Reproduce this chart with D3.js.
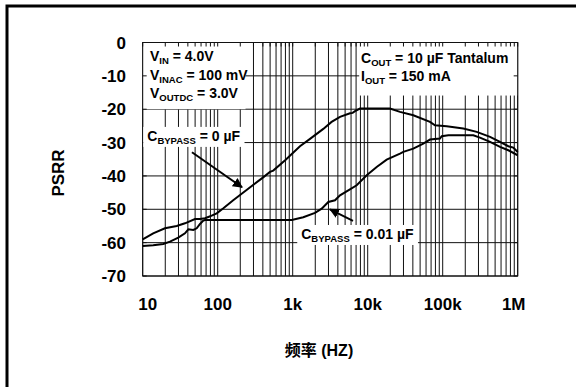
<!DOCTYPE html>
<html><head><meta charset="utf-8">
<script src="https://cdn.jsdelivr.net/npm/d3@7/dist/d3.min.js"></script>
<style>
html,body{margin:0;padding:0;background:#fff;}
svg{display:block;}
text{font-family:"Liberation Sans",Arial,sans-serif;font-weight:bold;fill:#000;}
</style></head>
<body>
<svg id="c" width="576" height="387"></svg>
<script>
// ---- data ----
const freqTicks = [10, 100, 1000, 10000, 100000, 1000000];
const freqTickLabels = ["10", "100", "1k", "10k", "100k", "1M"];
const psrrTicks = [0, -10, -20, -30, -40, -50, -60, -70];

// C_BYPASS = 0 uF
const freq0 = [10, 13.8, 19.8, 28.4, 36.6, 49.8, 58.1, 67.7, 75, 83, 97, 119, 161, 250, 400, 498, 550, 800, 1250, 1702, 2558, 3300, 4274, 5808, 6300, 6776, 7890, 19800, 26970, 40550, 67700, 78900, 113000, 188000, 284000, 428000, 581000, 750000, 873000, 1000000];
const psrr0 = [-59.0, -57.2, -55.7, -55.0, -54.2, -52.9, -52.9, -52.7, -52.3, -51.9, -51.2, -49.7, -47.3, -44.0, -40.5, -38.8, -38.4, -35.2, -31.1, -28.9, -25.9, -23.8, -22.3, -21.2, -21.1, -20.6, -19.8, -19.8, -20.8, -21.8, -23.8, -24.8, -25.1, -25.8, -26.8, -28.3, -29.8, -31.1, -31.5, -32.8];

// C_BYPASS = 0.01 uF
const freq001 = [10, 13.8, 18.8, 23.1, 29.8, 36.6, 40.6, 47.3, 52.5, 58.1, 64.3, 67.7, 970, 1384, 1982, 2437, 2985, 3664, 4274, 5510, 7130, 9700, 13180, 17910, 26970, 29850, 40550, 55100, 67700, 92000, 97000, 119000, 256000, 314000, 428000, 581000, 750000, 1000000];
const psrr001 = [-61.0, -60.8, -60.4, -59.7, -58.5, -57.2, -56.0, -56.2, -55.7, -54.4, -53.4, -53.2, -53.2, -52.4, -51.1, -49.8, -47.8, -47.3, -45.8, -44.3, -42.8, -39.8, -37.3, -35.1, -33.3, -32.8, -31.8, -30.3, -29.1, -28.8, -28.1, -27.8, -27.8, -28.5, -29.8, -31.3, -32.3, -33.8];

// annotation texts
const legendLeft = [
  [["V"], ["IN", 1], [" = 4.0V"]],
  [["V"], ["INAC", 1], [" = 100 mV"]],
  [["V"], ["OUTDC", 1], [" = 3.0V"]]
];
const legendRight = [
  [["C"], ["OUT", 1], [" = 10 µF Tantalum"]],
  [["I"], ["OUT", 1], [" = 150 mA"]]
];
const label0 = [["C"], ["BYPASS", 1], [" = 0 µF"]];
const label001 = [["C"], ["BYPASS", 1], [" = 0.01 µF"]];
const xTitle = "频率 (HZ)";
const yTitle = "PSRR";

// ---- drawing ----
const svg = d3.select("#c");
const x = d3.scaleLog().domain([10, 1e6]).range([142.7, 517.7]);
const y = d3.scaleLinear().domain([-70, 0]).range([276, 42.5]);
const gridColor = "#111";

// outer frame (only top & left visible)
svg.append("rect").attr("x", 7).attr("y", 6).attr("width", 600).attr("height", 420)
  .attr("fill", "none").attr("stroke", "#000").attr("stroke-width", 3);

// minor + major freq positions
const gridFreqs = [];
for (let dec = 10; dec < 1e6; dec *= 10) for (let k = 1; k <= 9; k++) gridFreqs.push(dec * k);
gridFreqs.push(1e6);

const g = svg.append("g");
g.selectAll("line.v").data(gridFreqs).join("line")
  .attr("x1", d => x(d)).attr("x2", d => x(d)).attr("y1", y(0)).attr("y2", y(-70))
  .attr("stroke", gridColor).attr("stroke-width", 1);
g.selectAll("line.h").data(psrrTicks).join("line")
  .attr("x1", x(10)).attr("x2", x(1e6)).attr("y1", d => y(d)).attr("y2", d => y(d))
  .attr("stroke", gridColor).attr("stroke-width", 1);

// white boxes behind legend texts
g.append("rect").attr("x", x(10)).attr("y", y(0)).attr("width", x(235) - x(10)).attr("height", y(-20) - y(0)).attr("fill", "#fff");
g.append("rect").attr("x", x(7700)).attr("y", y(0)).attr("width", x(1e6) - x(7700)).attr("height", y(-15.9) - y(0)).attr("fill", "#fff");

// frame ticks (inward)
g.selectAll("line.tt").data(gridFreqs).join("line")
  .attr("x1", d => x(d)).attr("x2", d => x(d)).attr("y1", y(0)).attr("y2", y(0) + 4)
  .attr("stroke", gridColor);
g.selectAll("line.tl").data(psrrTicks).join("line")
  .attr("x1", x(10)).attr("x2", x(10) + 4).attr("y1", d => y(d)).attr("y2", d => y(d)).attr("stroke", gridColor);
g.selectAll("line.tr").data(psrrTicks).join("line")
  .attr("x1", x(1e6) - 4).attr("x2", x(1e6)).attr("y1", d => y(d)).attr("y2", d => y(d)).attr("stroke", gridColor);
g.append("rect").attr("x", x(10)).attr("y", y(0)).attr("width", x(1e6) - x(10)).attr("height", y(-70) - y(0))
  .attr("fill", "none").attr("stroke", gridColor).attr("stroke-width", 1);

function richText(parent, parts, px, py, size) {
  const t = parent.append("text").attr("x", px).attr("y", py).attr("font-size", size);
  parts.forEach(p => {
    const s = t.append("tspan").text(p[0]);
    if (p[1]) s.attr("font-size", size * 0.68).attr("dy", 3);
    else if (t.node().childNodes.length > 1) s.attr("dy", -3);
  });
  return t;
}

// legend texts
legendLeft.forEach((parts, i) => richText(svg, parts, 150, 61 + i * 18.5, 14));
legendRight.forEach((parts, i) => richText(svg, parts, 361, 63 + i * 17.5, 14));

// callout labels with white background
function callout(parts, fx, fy) {
  const t = richText(svg, parts, x(fx), y(fy), 14);
  const b = t.node().getBBox();
  svg.insert("rect", "text").attr("x", b.x - 4).attr("y", b.y - 1).attr("width", b.width + 8).attr("height", b.height + 2).attr("fill", "#fff");
}
callout(label0, 11.5, -29.5);
callout(label001, 1300, -58.9);

// curves
const line = d3.line().x(d => x(d[0])).y(d => y(d[1]));
svg.append("path").datum(freq0.map((f, i) => [f, psrr0[i]])).attr("d", line)
  .attr("fill", "none").attr("stroke", "#000").attr("stroke-width", 2);
svg.append("path").datum(freq001.map((f, i) => [f, psrr001[i]])).attr("d", line)
  .attr("fill", "none").attr("stroke", "#000").attr("stroke-width", 2);

// arrows
const defs = svg.append("defs");
defs.append("marker").attr("id", "ah").attr("viewBox", "0 0 10 10").attr("refX", 9).attr("refY", 5)
  .attr("markerWidth", 5).attr("markerHeight", 5).attr("orient", "auto")
  .append("path").attr("d", "M0,0L10,5L0,10z").attr("fill", "#000");
const arrows = [[[45.4, -32.9], [211, -43.4]], [[6368, -53.5], [3141, -50.0]]];
svg.selectAll("line.arr").data(arrows).join("line")
  .attr("x1", d => x(d[0][0])).attr("y1", d => y(d[0][1])).attr("x2", d => x(d[1][0])).attr("y2", d => y(d[1][1]))
  .attr("stroke", "#000").attr("stroke-width", 2).attr("marker-end", "url(#ah)");

// axis tick labels
svg.selectAll("text.xt").data(freqTicks).join("text")
  .attr("x", (d, i) => x(d) + (i === 0 ? 5 : i === freqTicks.length - 1 ? -4 : 0))
  .attr("y", 310).attr("text-anchor", "middle").attr("font-size", 17)
  .text((d, i) => freqTickLabels[i]);
svg.selectAll("text.yt").data(psrrTicks).join("text")
  .attr("x", 126).attr("y", d => y(d) + 6).attr("text-anchor", "end").attr("font-size", 17)
  .text(d => d);

// axis titles
svg.append("text").attr("x", 319).attr("y", 356).attr("text-anchor", "middle").attr("font-size", 16)
  .style("font-family", "'Liberation Sans','Noto Sans CJK SC',sans-serif").text(xTitle);
svg.append("text").attr("transform", "translate(64,173) rotate(-90)").attr("text-anchor", "middle")
  .attr("font-size", 17).text(yTitle);
</script>
</body></html>
